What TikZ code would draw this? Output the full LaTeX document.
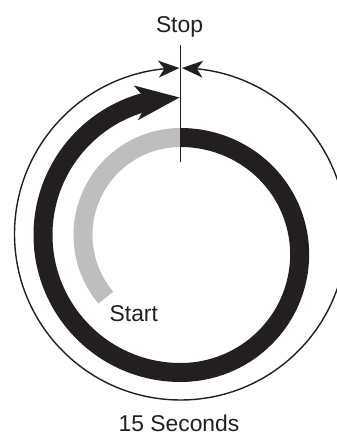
\documentclass[tikz,border=0pt]{standalone}
\usepackage{fontspec}
\setmainfont{Liberation Sans}
\usetikzlibrary{arrows.meta, bending}
\definecolor{ink}{RGB}{35,31,32}
\definecolor{lag}{RGB}{188,190,192}
% radius of the black spiral band, growing over the first half turn
\newcommand{\spirad}[1]{(97.5+20*(1-cos(#1)))}
\tikzset{
  dimtip/.tip={Stealth[length=0.42cm, width=0.34cm, inset=0.12cm, line width=0pt]},
  bigtip/.tip={Stealth[length=0.88cm, width=0.70cm, inset=0.24cm, line width=0pt]}}

\begin{document}
\begin{tikzpicture}[x=0.02cm, y=0.02cm, ink, line width=0.8pt,
  lbl/.style={font=\fontsize{13}{15}\selectfont, inner sep=0pt, anchor=base},
  band/.style={line width=0.38cm}]
  \useasboundingbox (0,0) rectangle (337,434);
  \coordinate (c) at (180.5,199);
  \coordinate (o) at (180.5,200);

  % ---------- outer ring: 15 s ----------
  \begin{scope}
    \clip (0,0) rectangle (337,434);
    \draw[dimtip-dimtip] ([shift={(89.5:166)}]o)
      arc[start angle=89.5, end angle=-269.6, radius=166];
  \end{scope}

  % ---------- gray and black bands ----------
  \begin{scope}[shift={(c)}]
    \draw[band, lag] (90:97.5) arc[start angle=90, end angle=220, radius=97.5];
    \draw[band, -bigtip]
      plot[domain=0:180, samples=61, smooth, variable=\t]
        ({\spirad{\t}*sin(\t)}, {\spirad{\t}*cos(\t)})
      arc[start angle=-90, end angle=-269.6, radius=137.5];
  \end{scope}

  % ---------- stop mark ----------
  \coordinate (marktop) at (180.5,389);
  \coordinate (markbot) at (180.5,272);
  \draw[line width=0.6pt] (marktop) -- (markbot);

  % ---------- labels ----------
  \node[lbl] (stop)  at (179.5,402)   {Stop};
  \node[lbl] (start) at (133.8,112.3) {Start};
  \node[lbl] (secs)  at (179,3)       {15 Seconds};

\end{tikzpicture}
\end{document}
